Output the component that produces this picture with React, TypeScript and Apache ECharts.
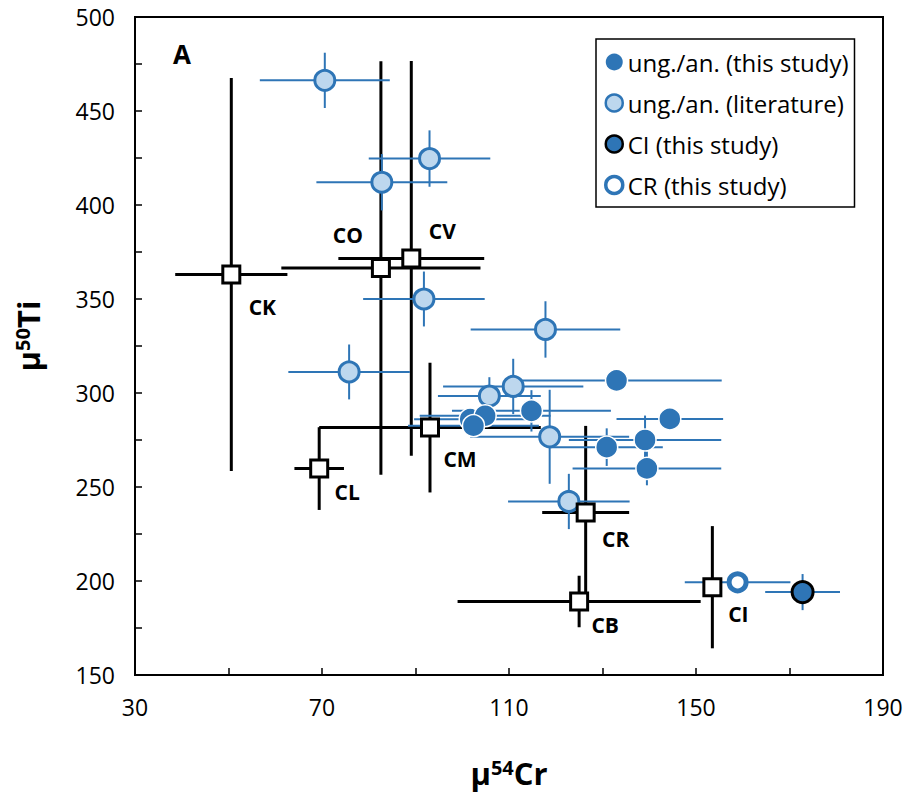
import React, { useEffect, useRef } from "react";
import * as echarts from "echarts";

// Chondrite groups (black squares)
const groupNames = ["CK", "CO", "CV", "CM", "CL", "CR", "CB", "CI"];
const groupX = [50.6, 82.6, 89.1, 93.1, 69.4, 126.4, 125.0, 153.5];
const groupY = [363, 366.5, 371.6, 281.6, 259.8, 236.5, 189.1, 196.7];
const groupXErr = [12, 21.3, 15.6, 23.7, 5.3, 9.3, 26, 2];
const groupYErr = [104.5, 110, 105, 34.5, 22, 46, 13.7, 32.5];

// ung./an. (this study)
const studyX = [133.0, 144.4, 139.1, 130.9, 139.5, 114.8, 101.7, 104.9, 102.4];
const studyY = [306.7, 286.2, 275.0, 271.2, 259.9, 290.5, 286.1, 287.9, 282.6];
const studyXErr = [22.5, 11.4, 16.3, 12, 15.9, 17, 12, 14, 14];
const studyYErr = [3, 3, 13, 10, 9, 11, 5, 6, 5];

// ung./an. (literature)
const litX = [70.6, 82.8, 93.0, 91.8, 75.8, 117.8, 110.9, 105.8, 118.7, 122.8];
const litY = [466.3, 412.1, 424.7, 350.0, 311.2, 333.8, 303.5, 298.4, 276.7, 242.3];
const litXErr = [13.9, 14, 13, 13, 13, 16, 15, 11, 17, 13];
const litYErr = [14.7, 15, 15, 14.6, 14.6, 15, 14.7, 10, 25, 14.7];

// CI (this study)
const ciX = [172.8];
const ciY = [194.1];
const ciXErr = [8];
const ciYErr = [9.6];

// CR (this study)
const crX = [158.9];
const crY = [199.3];
const crXErr = [11.3];
const crYErr = [3];

const xTickLabels = [30, 70, 110, 150, 190];
const yTickLabels = [150, 200, 250, 300, 350, 400, 450, 500];

const legendNames = [
  "ung./an. (this study)",
  "ung./an. (literature)",
  "CI (this study)",
  "CR (this study)",
];

// label offsets of group names (layout only)
const labelOffsets: number[][] = [
  [31, 32], [-33, -33], [31, -27], [30, 31], [28, 23], [30, 27], [26, 24], [26, 27],
];

const BLUE = "#2E75B6";
const LIGHT = "#BDD7EE";
const FONT = "'Open Sans', 'Noto Sans', sans-serif";

function errData(xs: number[], ys: number[], ex: number[], ey: number[]) {
  return xs.map((x, i) => [x, ys[i], ex[i], ey[i]]);
}

function errSeries(data: number[][], color: string, width: number, z: number) {
  return {
    type: "custom",
    silent: true,
    z,
    encode: { x: 0, y: 1 },
    data,
    renderItem: (params: any, api: any) => {
      const x = api.value(0);
      const y = api.value(1);
      const ex = api.value(2);
      const ey = api.value(3);
      const l = api.coord([x - ex, y]);
      const r = api.coord([x + ex, y]);
      const t = api.coord([x, y + ey]);
      const b = api.coord([x, y - ey]);
      return {
        type: "group",
        children: [
          { type: "line", shape: { x1: l[0], y1: l[1], x2: r[0], y2: r[1] }, style: { stroke: color, lineWidth: width } },
          { type: "line", shape: { x1: t[0], y1: t[1], x2: b[0], y2: b[1] }, style: { stroke: color, lineWidth: width } },
        ],
      };
    },
  };
}

export default function App() {
  const ref = useRef<HTMLDivElement>(null);
  useEffect(() => {
    if (!ref.current) return;
    const chart = echarts.init(ref.current, undefined, { renderer: "svg" });
    const titleRich = {
      a: { fontFamily: FONT, fontWeight: "bold", fontSize: 31, color: "#000" },
      s: { fontFamily: FONT, fontWeight: "bold", fontSize: 20, color: "#000", verticalAlign: "top" },
    };
    const option: any = {
      animation: false,
      backgroundColor: "#fff",
      grid: { left: 135, right: 23, top: 17, bottom: 111, show: true, borderColor: "#000", borderWidth: 2, backgroundColor: "transparent" },
      xAxis: {
        type: "value",
        min: 30,
        max: 190,
        interval: 20,
        splitLine: { show: false },
        axisLine: { show: true, lineStyle: { color: "#000", width: 2 } },
        axisTick: { show: true, inside: true, length: 7, lineStyle: { color: "#000", width: 1.5 } },
        axisLabel: {
          margin: 20,
          fontFamily: FONT,
          fontSize: 23,
          color: "#000",
          formatter: (v: number) => (xTickLabels.includes(v) ? String(v) : ""),
        },
        name: "{a|μ}{s|54}{a|Cr}",
        nameLocation: "middle",
        nameGap: 82,
        nameTextStyle: { rich: titleRich },
      },
      yAxis: {
        type: "value",
        min: 150,
        max: 500,
        interval: 25,
        splitLine: { show: false },
        axisLine: { show: true, lineStyle: { color: "#000", width: 2 } },
        axisTick: { show: true, inside: true, length: 7, lineStyle: { color: "#000", width: 1.5 } },
        axisLabel: {
          margin: 20,
          fontFamily: FONT,
          fontSize: 23,
          color: "#000",
          formatter: (v: number) => (yTickLabels.includes(v) ? String(v) : ""),
        },
        name: "{a|μ}{s|50}{a|Ti}",
        nameLocation: "middle",
        nameRotate: 90,
        nameGap: 92,
        nameTextStyle: { rich: titleRich, padding: [0, 0, 0, 20] },
      },
      legend: {
        orient: "vertical",
        left: 596,
        top: 39,
        padding: [10, 6, 9, 8],
        itemGap: 15,
        itemWidth: 17,
        itemHeight: 17,
        borderColor: "#000",
        borderWidth: 1.5,
        backgroundColor: "#fff",
        textStyle: { fontFamily: FONT, fontSize: 24, color: "#000", lineHeight: 26 },
        data: [
          { name: legendNames[0], icon: "circle", itemStyle: { color: BLUE, borderWidth: 0 } },
          { name: legendNames[1], icon: "circle", itemStyle: { color: LIGHT, borderColor: BLUE, borderWidth: 2.5 } },
          { name: legendNames[2], icon: "circle", itemStyle: { color: BLUE, borderColor: "#000", borderWidth: 2.5 } },
          { name: legendNames[3], icon: "circle", itemStyle: { color: "#fff", borderColor: BLUE, borderWidth: 3.5 } },
        ],
      },
      graphic: [
        { type: "text", left: 173, top: 41, style: { text: "A", font: `bold 26px ${FONT}`, fill: "#000" } },
      ],
      series: [
        errSeries(errData(groupX, groupY, groupXErr, groupYErr), "#000", 3, 1),
        errSeries(errData(litX, litY, litXErr, litYErr), BLUE, 2, 2),
        errSeries(errData(studyX, studyY, studyXErr, studyYErr), BLUE, 2, 2),
        errSeries(errData(ciX, ciY, ciXErr, ciYErr), BLUE, 2, 2),
        errSeries(errData(crX, crY, crXErr, crYErr), BLUE, 2, 2),
        {
          name: legendNames[1],
          type: "scatter",
          z: 3,
          symbol: "circle",
          symbolSize: 20,
          itemStyle: { color: LIGHT, borderColor: BLUE, borderWidth: 3, opacity: 1 },
          data: litX.map((x, i) => [x, litY[i]]),
        },
        {
          name: legendNames[0],
          type: "scatter",
          z: 4,
          symbol: "circle",
          symbolSize: 22,
          itemStyle: { color: BLUE, borderColor: "#fff", borderWidth: 1.5, opacity: 1 },
          data: studyX.map((x, i) => [x, studyY[i]]),
        },
        {
          name: legendNames[2],
          type: "scatter",
          z: 4,
          symbol: "circle",
          symbolSize: 21,
          itemStyle: { color: BLUE, borderColor: "#000", borderWidth: 3, opacity: 1 },
          data: ciX.map((x, i) => [x, ciY[i]]),
        },
        {
          name: legendNames[3],
          type: "scatter",
          z: 4,
          symbol: "circle",
          symbolSize: 17,
          itemStyle: { color: "#fff", borderColor: BLUE, borderWidth: 5, opacity: 1 },
          data: crX.map((x, i) => [x, crY[i]]),
        },
        {
          name: "groups",
          type: "scatter",
          z: 5,
          symbol: "rect",
          symbolSize: 17,
          itemStyle: { color: "#fff", borderColor: "#000", borderWidth: 3, opacity: 1 },
          label: {
            show: true,
            position: "inside",
            formatter: "{b}",
            fontFamily: FONT,
            fontWeight: "bold",
            fontSize: 21,
            color: "#000",
          },
          data: groupNames.map((n, i) => ({
            name: n,
            value: [groupX[i], groupY[i]],
            label: { offset: labelOffsets[i] },
          })),
        },
      ],
    };
    chart.setOption(option);
    return () => chart.dispose();
  }, []);
  return <div ref={ref} style={{ position: "absolute", left: 0, top: 0, width: 906, height: 793 }} />;
}
